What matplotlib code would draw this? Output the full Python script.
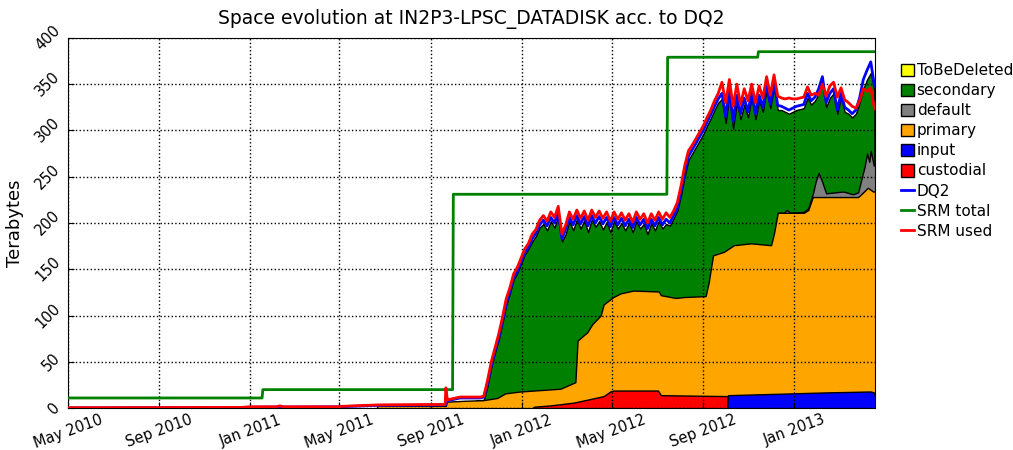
import matplotlib
matplotlib.use("Agg")
import matplotlib.pyplot as plt
import matplotlib.dates as mdates
from matplotlib.patches import Patch
from matplotlib.lines import Line2D
import pandas as pd

# --- storage pledges / usage (TB) ---
srm_total_dates = ["2010-05-01", "2011-01-17", "2011-01-18", "2011-09-30", "2011-10-01",
                   "2012-07-14", "2012-07-15", "2012-11-13", "2012-11-14", "2013-04-20"]
srm_total = [11, 11, 20, 20, 231, 231, 379, 379, 385, 385]

# early part (before Nov 2011) of the used / DQ2 curves
early_dates = ["2010-05-01", "2010-12-20", "2011-01-01", "2011-02-05", "2011-02-10",
               "2011-02-15", "2011-05-01", "2011-05-05", "2011-06-21", "2011-09-20",
               "2011-09-21", "2011-09-23", "2011-10-10", "2011-10-30"]
srm_used_early = [0.5, 0.8, 1.5, 1.5, 2.5, 1.5, 1.5, 2, 3.5, 4, 22, 9, 12, 12]
dq2_early = [0.3, 0.6, 1.0, 1.2, 1.5, 1.2, 1.4, 1.6, 3.0, 3.5, 4, 8, 11, 11]

# from 2011-11-01 onwards, every 5 days
late_start = "2011-11-01"
srm_used_late = [12, 12, 13, 30, 50, 65, 80, 98, 118, 130, 145, 152, 162, 172, 178, 188, 193, 203,
                 208, 202, 212, 206, 218, 188, 198, 212, 204, 214, 205, 213, 203, 214, 206, 213,
                 205, 212, 202, 212, 204, 211, 203, 210, 201, 212, 204, 210, 200, 210, 203, 212,
                 204, 211, 206, 213, 222, 240, 262, 278, 284, 291, 298, 305, 314, 322, 332, 340,
                 352, 330, 355, 326, 350, 328, 345, 332, 350, 330, 348, 335, 358, 338, 360, 337,
                 335, 334, 335, 334, 334, 335, 336, 347, 338, 340, 338, 350, 337, 348, 352, 336,
                 346, 333, 330, 326, 324, 332, 345, 342, 346, 323]
dq2_late = [11, 11, 12, 27, 46, 62, 76, 94, 113, 126, 141, 148, 158, 168, 174, 183, 189, 198,
            203, 197, 206, 200, 212, 183, 193, 206, 198, 208, 199, 207, 197, 208, 200, 207,
            199, 206, 196, 206, 198, 205, 197, 204, 195, 206, 198, 204, 194, 204, 197, 206,
            198, 204, 200, 208, 216, 234, 255, 272, 279, 286, 293, 300, 309, 317, 326, 334,
            340, 315, 345, 310, 338, 318, 335, 320, 342, 318, 338, 325, 350, 328, 352, 327,
            326, 324, 322, 324, 326, 327, 328, 340, 332, 336, 345, 358, 330, 340, 345, 322,
            340, 325, 322, 318, 322, 335, 355, 365, 374, 348]
secondary_top = [8.5, 8.6, 9, 24, 44, 60, 74, 92, 111, 124, 139, 146, 156, 166, 172, 180, 186, 195,
                 199, 192, 202, 195, 208, 180, 188, 202, 192, 204, 194, 203, 190, 204, 196, 202,
                 193, 201, 190, 202, 194, 200, 192, 200, 190, 202, 194, 199, 188, 200, 192, 202,
                 194, 199, 197, 205, 213, 230, 251, 268, 275, 282, 289, 296, 305, 313, 322, 330,
                 334, 308, 338, 302, 330, 312, 328, 314, 336, 312, 332, 320, 345, 324, 346, 322,
                 322, 320, 318, 320, 322, 323, 324, 335, 328, 332, 340, 352, 325, 335, 340, 318,
                 336, 320, 318, 314, 318, 330, 345, 355, 362, 342]

# cumulative top of the primary layer
primary_dates = ["2011-06-20", "2011-06-21", "2011-09-21", "2011-09-22", "2011-10-17",
                 "2011-11-10", "2011-11-29", "2011-12-10", "2011-12-30", "2012-01-17",
                 "2012-02-22", "2012-03-13", "2012-03-16", "2012-03-29", "2012-04-05",
                 "2012-04-16", "2012-04-20", "2012-05-03", "2012-05-13", "2012-05-30",
                 "2012-07-03", "2012-07-06", "2012-07-26", "2012-08-06", "2012-09-04",
                 "2012-09-08", "2012-09-14", "2012-09-29", "2012-10-12", "2012-11-04",
                 "2012-12-01", "2012-12-05", "2012-12-10", "2013-01-14", "2013-01-20",
                 "2013-01-26", "2013-03-28", "2013-04-05", "2013-04-10", "2013-04-17",
                 "2013-04-20"]
primary_top = [0, 2.5, 2.5, 7, 8, 8.6, 11, 16, 18, 19, 21, 28, 73, 82, 91, 100, 112, 120, 124,
               127, 126, 122, 119, 120, 121, 135, 165, 169, 176, 178, 176, 189, 211, 211, 214,
               228, 228, 234, 238, 234, 234]

# cumulative top of the default layer
default_dates = ["2012-12-10", "2012-12-18", "2012-12-22", "2012-12-27", "2013-01-14",
                 "2013-01-20", "2013-01-26", "2013-01-30", "2013-02-03", "2013-02-07",
                 "2013-02-13", "2013-03-08", "2013-03-21", "2013-03-28", "2013-04-01",
                 "2013-04-06", "2013-04-09", "2013-04-12", "2013-04-14", "2013-04-18",
                 "2013-04-20"]
default_top = [211, 211, 214, 211, 212, 216, 231, 245, 254, 246, 232, 234, 231, 233, 246,
               262, 275, 266, 278, 262, 262]

custodial_dates = ["2012-01-16", "2012-01-17", "2012-02-09", "2012-03-11", "2012-04-03",
                   "2012-04-20", "2012-04-29", "2012-05-03", "2012-07-02", "2012-07-06",
                   "2012-10-03", "2012-10-04"]
custodial_top = [0, 1.5, 3, 6, 10, 13, 18, 19, 19, 14, 13, 0]

input_dates = ["2012-10-03", "2012-10-04", "2012-11-17", "2013-02-13", "2013-04-14",
               "2013-04-18", "2013-04-20"]
input_top = [0, 14, 15, 17, 18, 17, 12]

layer_names = ["ToBeDeleted", "secondary", "default", "primary", "input", "custodial"]
layer_colors = ["#FFFF00", "#008000", "#808080", "#FFA500", "#0000FF", "#FF0000"]

# ------------------------------------------------------------------
late_dates = pd.date_range(late_start, periods=len(srm_used_late), freq="5D")
used_x = list(pd.to_datetime(early_dates)) + list(late_dates)
used_y = srm_used_early + srm_used_late
dq2_x = list(pd.to_datetime(early_dates)) + list(late_dates)
dq2_y = dq2_early + dq2_late

fig = plt.figure(figsize=(10.13, 4.5), dpi=100)
ax = fig.add_axes([0.067, 0.093, 0.797, 0.823])

sec_x = pd.date_range(late_start, periods=len(secondary_top), freq="5D")
ax.fill_between(sec_x, 0, secondary_top, facecolor="#008000", edgecolor="black", lw=1, zorder=1.0)
ax.fill_between(pd.to_datetime(default_dates), 0, default_top, facecolor="#808080",
                edgecolor="black", lw=1, zorder=1.1)
ax.fill_between(pd.to_datetime(primary_dates), 0, primary_top, facecolor="#FFA500",
                edgecolor="black", lw=1, zorder=1.2)
ax.fill_between(pd.to_datetime(custodial_dates), 0, custodial_top, facecolor="#FF0000",
                edgecolor="black", lw=1, zorder=1.3)
ax.fill_between(pd.to_datetime(input_dates), 0, input_top, facecolor="#0000FF",
                edgecolor="black", lw=1, zorder=1.3)

ax.plot(dq2_x, dq2_y, color="#0000FF", lw=2, zorder=3)
ax.plot(pd.to_datetime(srm_total_dates), srm_total, color="#008000", lw=2, zorder=3)
ax.plot(used_x, used_y, color="#FF0000", lw=2, zorder=3.1)

ax.set_xlim(pd.Timestamp("2010-05-01"), pd.Timestamp("2013-04-20"))
ax.set_ylim(0, 400)
ax.set_yticks(range(0, 401, 50))
ax.xaxis.set_major_locator(mdates.MonthLocator(bymonth=[1, 5, 9]))
ax.xaxis.set_major_formatter(mdates.DateFormatter("%b %Y"))
ax.grid(True, color="black", linestyle=":", lw=1)
ax.set_axisbelow(False)
ax.tick_params(direction="in", length=4, labelsize=10.5)
ax.tick_params(axis="x", pad=3)
for lab in ax.get_xticklabels():
    lab.set_rotation(20)
    lab.set_ha("center")
for lab in ax.get_yticklabels():
    lab.set_rotation(45)
    lab.set_va("center")
ax.set_ylabel("Terabytes", fontsize=13, labelpad=6)
ax.set_title("Space evolution at IN2P3-LPSC_DATADISK acc. to DQ2", fontsize=13.5, pad=10)

handles = [Patch(facecolor=c, edgecolor="black", label=n) for n, c in zip(layer_names, layer_colors)]
handles += [Line2D([], [], color="#0000FF", lw=2, label="DQ2"),
            Line2D([], [], color="#008000", lw=2, label="SRM total"),
            Line2D([], [], color="#FF0000", lw=2, label="SRM used")]
fig.legend(handles=handles, loc="upper left", bbox_to_anchor=(0.883, 0.873), frameon=False,
           fontsize=11, handlelength=0.9, handleheight=0.9, handletextpad=0.15,
           labelspacing=0.33, borderaxespad=0)

fig.savefig("out.png", dpi=100)
